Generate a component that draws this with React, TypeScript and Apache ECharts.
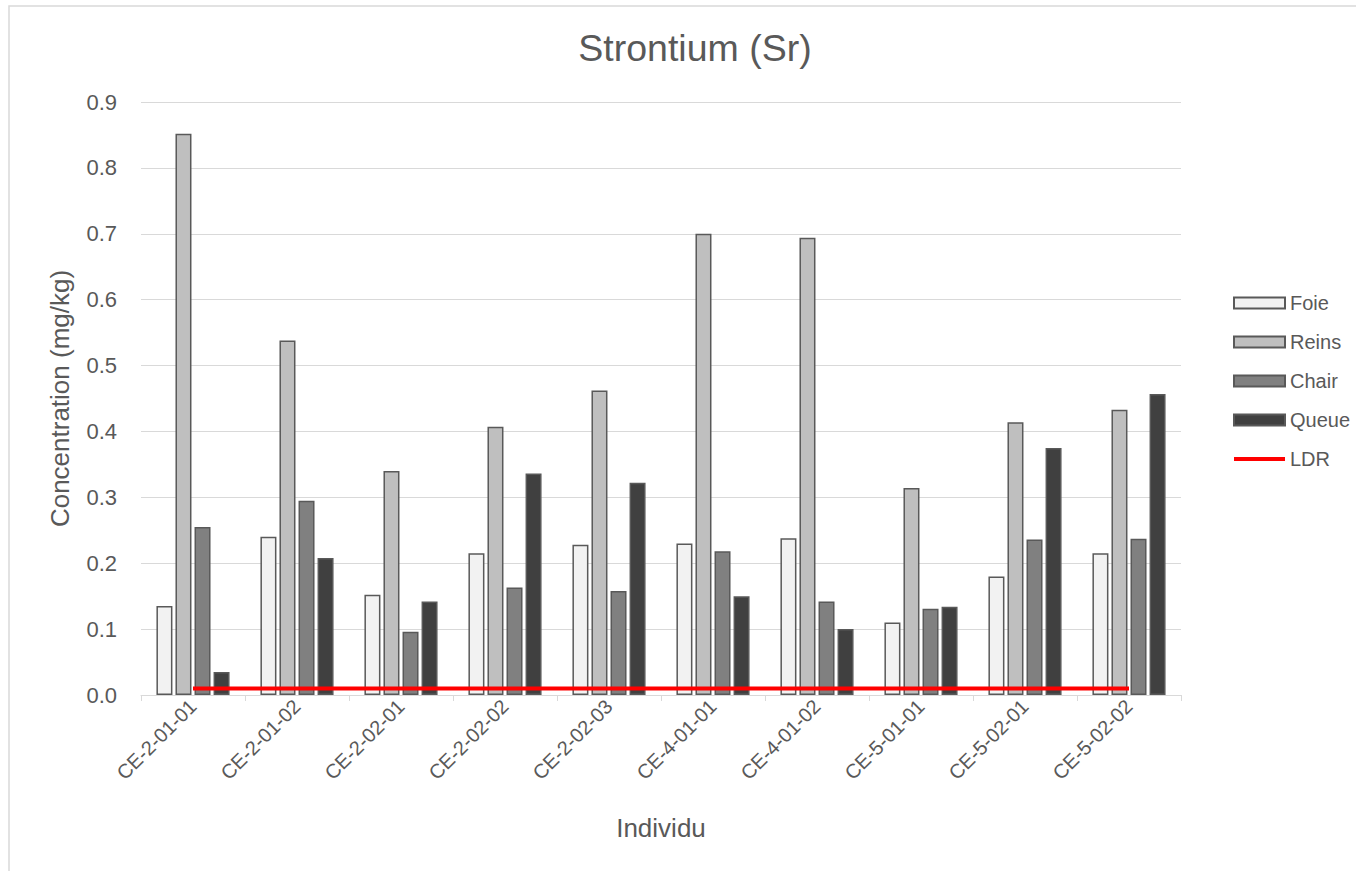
import React, { useEffect, useRef } from "react";
import * as echarts from "echarts";

const categories = [
  "CE-2-01-01", "CE-2-01-02", "CE-2-02-01", "CE-2-02-02", "CE-2-02-03",
  "CE-4-01-01", "CE-4-01-02", "CE-5-01-01", "CE-5-02-01", "CE-5-02-02",
];
const foie = [0.135, 0.24, 0.152, 0.215, 0.228, 0.23, 0.238, 0.11, 0.18, 0.215];
const reins = [0.852, 0.538, 0.34, 0.407, 0.462, 0.7, 0.694, 0.314, 0.414, 0.433];
const chair = [0.255, 0.295, 0.096, 0.163, 0.158, 0.218, 0.142, 0.131, 0.236, 0.237];
const queue = [0.035, 0.208, 0.142, 0.336, 0.322, 0.15, 0.1, 0.134, 0.375, 0.457];
const ldr = [0.01, 0.01, 0.01, 0.01, 0.01, 0.01, 0.01, 0.01, 0.01, 0.01];

const FONT = "'Liberation Sans', Arial, sans-serif";
const TXT = "#595959";

export default function App() {
  const ref = useRef<HTMLDivElement>(null);
  useEffect(() => {
    if (!ref.current) return;
    const chart = echarts.init(ref.current, null, { renderer: "svg" });
    const barSeries = (name: string, data: number[], color: string) => ({
      name,
      type: "bar",
      data,
      barWidth: 16,
      barGap: "19%",
      itemStyle: { color, borderColor: "#595959", borderWidth: 1.5 },
      emphasis: { disabled: true },
    });
    chart.setOption({
      animation: false,
      textStyle: { fontFamily: FONT },
      title: {
        text: "Strontium (Sr)",
        left: 690,
        textAlign: "center",
        top: 24,
        textStyle: { fontFamily: FONT, fontSize: 37.5, fontWeight: "normal", color: TXT },
      },
      graphic: [
        {
          type: "rect",
          shape: { x: 9, y: 6, width: 1500, height: 1000 },
          style: { fill: "none", stroke: "#d9d9d9", lineWidth: 1.5 },
          silent: true,
        },
      ],
      legend: {
        orient: "vertical",
        left: 1232,
        top: 293,
        padding: 0,
        itemWidth: 51,
        itemHeight: 11,
        itemGap: 19,
        textStyle: { fontFamily: FONT, fontSize: 20, color: TXT, lineHeight: 20 },
        data: [
          { name: "Foie", icon: "rect" },
          { name: "Reins", icon: "rect" },
          { name: "Chair", icon: "rect" },
          { name: "Queue", icon: "rect" },
          { name: "LDR", lineStyle: { width: 4 }, itemStyle: { opacity: 0 } },
        ],
      },
      grid: { left: 141, right: 175, top: 102, bottom: 176, containLabel: false },
      xAxis: {
        type: "category",
        data: categories,
        name: "Individu",
        nameLocation: "middle",
        nameGap: 120,
        nameTextStyle: { fontFamily: FONT, fontSize: 26, color: TXT },
        axisLine: { lineStyle: { color: "#d9d9d9", width: 1 } },
        axisTick: { show: true, length: 6, lineStyle: { color: "#d9d9d9" } },
        axisLabel: { rotate: 45, fontFamily: FONT, fontSize: 20, color: TXT, margin: 8, interval: 0 },
      },
      yAxis: {
        type: "value",
        min: 0,
        max: 0.9,
        interval: 0.1,
        name: "Concentration (mg/kg)",
        nameLocation: "middle",
        nameGap: 68,
        nameTextStyle: { fontFamily: FONT, fontSize: 26, color: TXT },
        axisLine: { show: false },
        axisTick: { show: false },
        axisLabel: {
          fontFamily: FONT,
          fontSize: 22,
          color: TXT,
          margin: 24,
          formatter: (v: number) => v.toFixed(1),
        },
        splitLine: { lineStyle: { color: "#d9d9d9", width: 1 } },
      },
      series: [
        barSeries("Foie", foie, "#f2f2f2"),
        barSeries("Reins", reins, "#bfbfbf"),
        barSeries("Chair", chair, "#808080"),
        barSeries("Queue", queue, "#404040"),
        {
          name: "LDR",
          type: "line",
          data: ldr,
          symbol: "none",
          z: 5,
          lineStyle: { color: "#ff0000", width: 4 },
          itemStyle: { color: "#ff0000" },
          emphasis: { disabled: true },
        },
      ],
    });
    return () => chart.dispose();
  }, []);
  return (
    <div
      ref={ref}
      style={{ position: "absolute", left: 0, top: 0, width: 1356, height: 871, background: "#fff" }}
    />
  );
}
